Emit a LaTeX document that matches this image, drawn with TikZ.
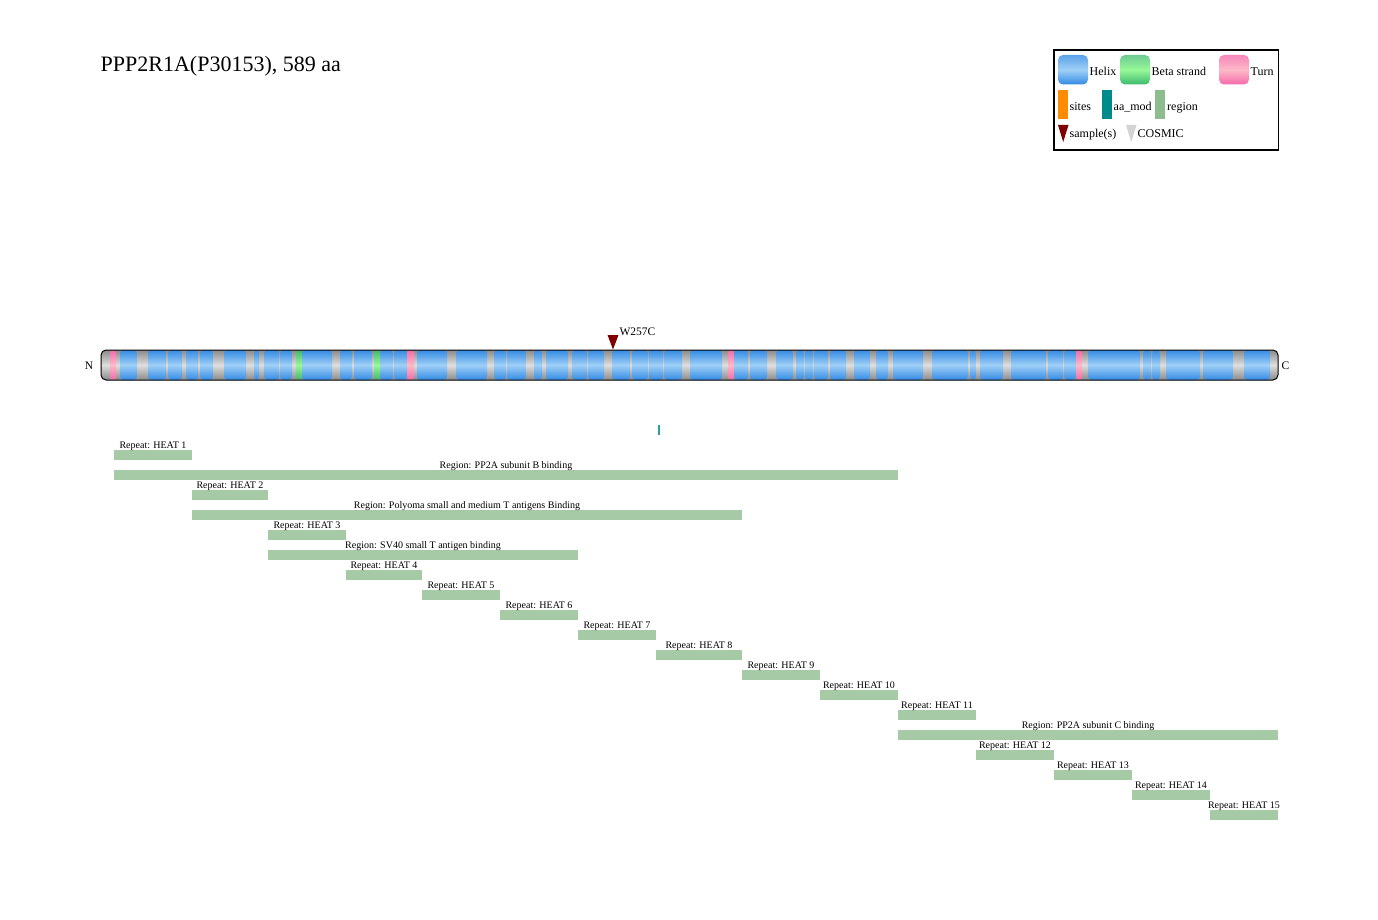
\documentclass[tikz,border=0pt]{standalone}
\usepackage{fontspec}
\setmainfont{Liberation Serif}
\definecolor{helixdark}{RGB}{52,138,228}
\definecolor{helixlight}{RGB}{158,208,246}
\definecolor{graydark}{RGB}{138,138,138}
\definecolor{graylight}{RGB}{222,222,222}
\definecolor{turndark}{RGB}{245,105,170}
\definecolor{turnlight}{RGB}{252,185,200}
\definecolor{stranddark}{RGB}{60,185,110}
\definecolor{strandlight}{RGB}{152,248,152}
\definecolor{regioncol}{RGB}{166,201,166}
\definecolor{legregion}{RGB}{143,188,143}
\definecolor{sitecol}{RGB}{255,140,0}
\definecolor{modcol}{RGB}{0,139,139}
\definecolor{modmark}{RGB}{38,163,155}
\definecolor{samplecol}{RGB}{128,0,0}
\definecolor{cosmiccol}{RGB}{211,211,211}
\tikzset{
  helixseg/.style={top color=helixdark, bottom color=helixdark, middle color=helixlight, rounded corners=3.5pt},
  strandseg/.style={top color=stranddark, bottom color=stranddark, middle color=strandlight, rounded corners=3pt},
  turnseg/.style={top color=turndark, bottom color=turndark, middle color=turnlight, rounded corners=3pt},
  barbg/.style={top color=graydark, bottom color=graydark, middle color=graylight},
  regionbar/.style={fill=regioncol},
  featlabel/.style={anchor=base, inner sep=0pt, font=\fontsize{10}{12}\selectfont},
  legtext/.style={anchor=base west, inner sep=0pt, font=\fontsize{12}{14}\selectfont},
  endlabel/.style={anchor=base, inner sep=0pt, font=\fontsize{11.5}{14}\selectfont}
}
\begin{document}
\begin{tikzpicture}[x=1pt,y=-1pt]
\useasboundingbox[fill=white] (0,0) rectangle (1378,920);

% title
\node[anchor=base west, inner sep=0pt, font=\fontsize{22}{26}\selectfont] (title) at (100.5,71.5) {PPP2R1A(P30153), 589 aa};

% legend
\draw[line width=1.5pt] (1054,50) rectangle (1278.5,150);
\path[top color=helixdark!80, bottom color=helixdark, middle color=helixlight, rounded corners=5pt] (1058,55) rectangle (1088,84.5);
\node[legtext] (lhelix) at (1089.5,75.5) {Helix};
\path[top color=stranddark!75, bottom color=stranddark, middle color=strandlight, rounded corners=5pt] (1120,55) rectangle (1150,84.5);
\node[legtext] (lstrand) at (1151.5,75.5) {Beta strand};
\path[top color=turndark!80, bottom color=turndark, middle color=turnlight, rounded corners=5pt] (1219,55) rectangle (1249,84.5);
\node[legtext] (lturn) at (1250.5,75.5) {Turn};
\fill[sitecol] (1058,90) rectangle (1068,119);
\node[legtext] (lsites) at (1069.5,110.5) {sites};
\fill[modcol] (1102,90) rectangle (1112,119);
\node[legtext] (lmod) at (1113.5,110.5) {aa\_mod};
\fill[legregion] (1155,90) rectangle (1165,119);
\node[legtext] (lregion) at (1167,110.5) {region};
\fill[samplecol] (1058,125) -- (1068.5,125) -- (1063.2,142) -- cycle;
\node[legtext] (lsample) at (1069.5,137.5) {sample(s)};
\fill[cosmiccol] (1126,125) -- (1136.5,125) -- (1131.2,142) -- cycle;
\node[legtext] (lcosmic) at (1137.5,137.5) {COSMIC};

% protein backbone
\path[barbg, rounded corners=5pt] (101,350) rectangle (1278,380);
\foreach \a/\b in {120/137, 148/166, 168/182, 186/198, 200/213, 224/246, 254/259,
  264/279, 280/292, 302/332, 340/352, 354/372, 380/393, 394/407, 417/447, 456/487,
  494/506, 507/526, 534/542, 546/568, 572/587, 588/604, 612/630, 632/648, 649/663,
  664/682, 690/722, 734/748, 750/767, 776/793, 796/804, 805/813, 814/828, 830/846,
  854/870, 876/888, 893/923, 932/968, 970/976, 980/1003, 1011/1046, 1048/1063,
  1064/1076, 1088/1140, 1143/1151, 1152/1160, 1166/1200, 1203/1233, 1244/1270}
  \path[helixseg] (\a,350) rectangle (\b,380);
\foreach \a/\b in {296/302, 374/380}
  \path[strandseg] (\a,350) rectangle (\b,380);
\foreach \a/\b in {110/116, 407/414, 728/734, 1076/1082}
  \path[turnseg] (\a,350) rectangle (\b,380);
\draw[line width=1pt, rounded corners=5pt] (101,350) rectangle (1278,380);
\node[endlabel] (nterm) at (89,369.5) {N};
\node[endlabel] (cterm) at (1285.5,369.5) {C};

% mutation
\fill[samplecol] (607.5,335) -- (618.5,335) -- (613,349.5) -- cycle;
\node[anchor=base west, inner sep=0pt, font=\fontsize{11.5}{14}\selectfont] (mut) at (619.3,335) {W257C};

% modified residue
\fill[modmark] (657.5,425) rectangle (660,434.5);

% repeats and regions
\foreach \y/\a/\b/\t in {
  455/114/192/{Repeat: HEAT 1},
  475/114/898/{Region: PP2A subunit B binding},
  495/192/268/{Repeat: HEAT 2},
  515/192/742/{Region: Polyoma small and medium T antigens Binding},
  535/268/346/{Repeat: HEAT 3},
  555/268/578/{Region: SV40 small T antigen binding},
  575/346/422/{Repeat: HEAT 4},
  595/422/500/{Repeat: HEAT 5},
  615/500/578/{Repeat: HEAT 6},
  635/578/656/{Repeat: HEAT 7},
  655/656/742/{Repeat: HEAT 8},
  675/742/820/{Repeat: HEAT 9},
  695/820/898/{Repeat: HEAT 10},
  715/898/976/{Repeat: HEAT 11},
  735/898/1278/{Region: PP2A subunit C binding},
  755/976/1054/{Repeat: HEAT 12},
  775/1054/1132/{Repeat: HEAT 13},
  795/1132/1210/{Repeat: HEAT 14},
  815/1210/1278/{Repeat: HEAT 15}}
{
  \path[regionbar] (\a,\y-5) rectangle (\b,\y+5);
  \node[featlabel] at ({(\a+\b)/2},\y-6.5) {\t};
}
\end{tikzpicture}
\end{document}
